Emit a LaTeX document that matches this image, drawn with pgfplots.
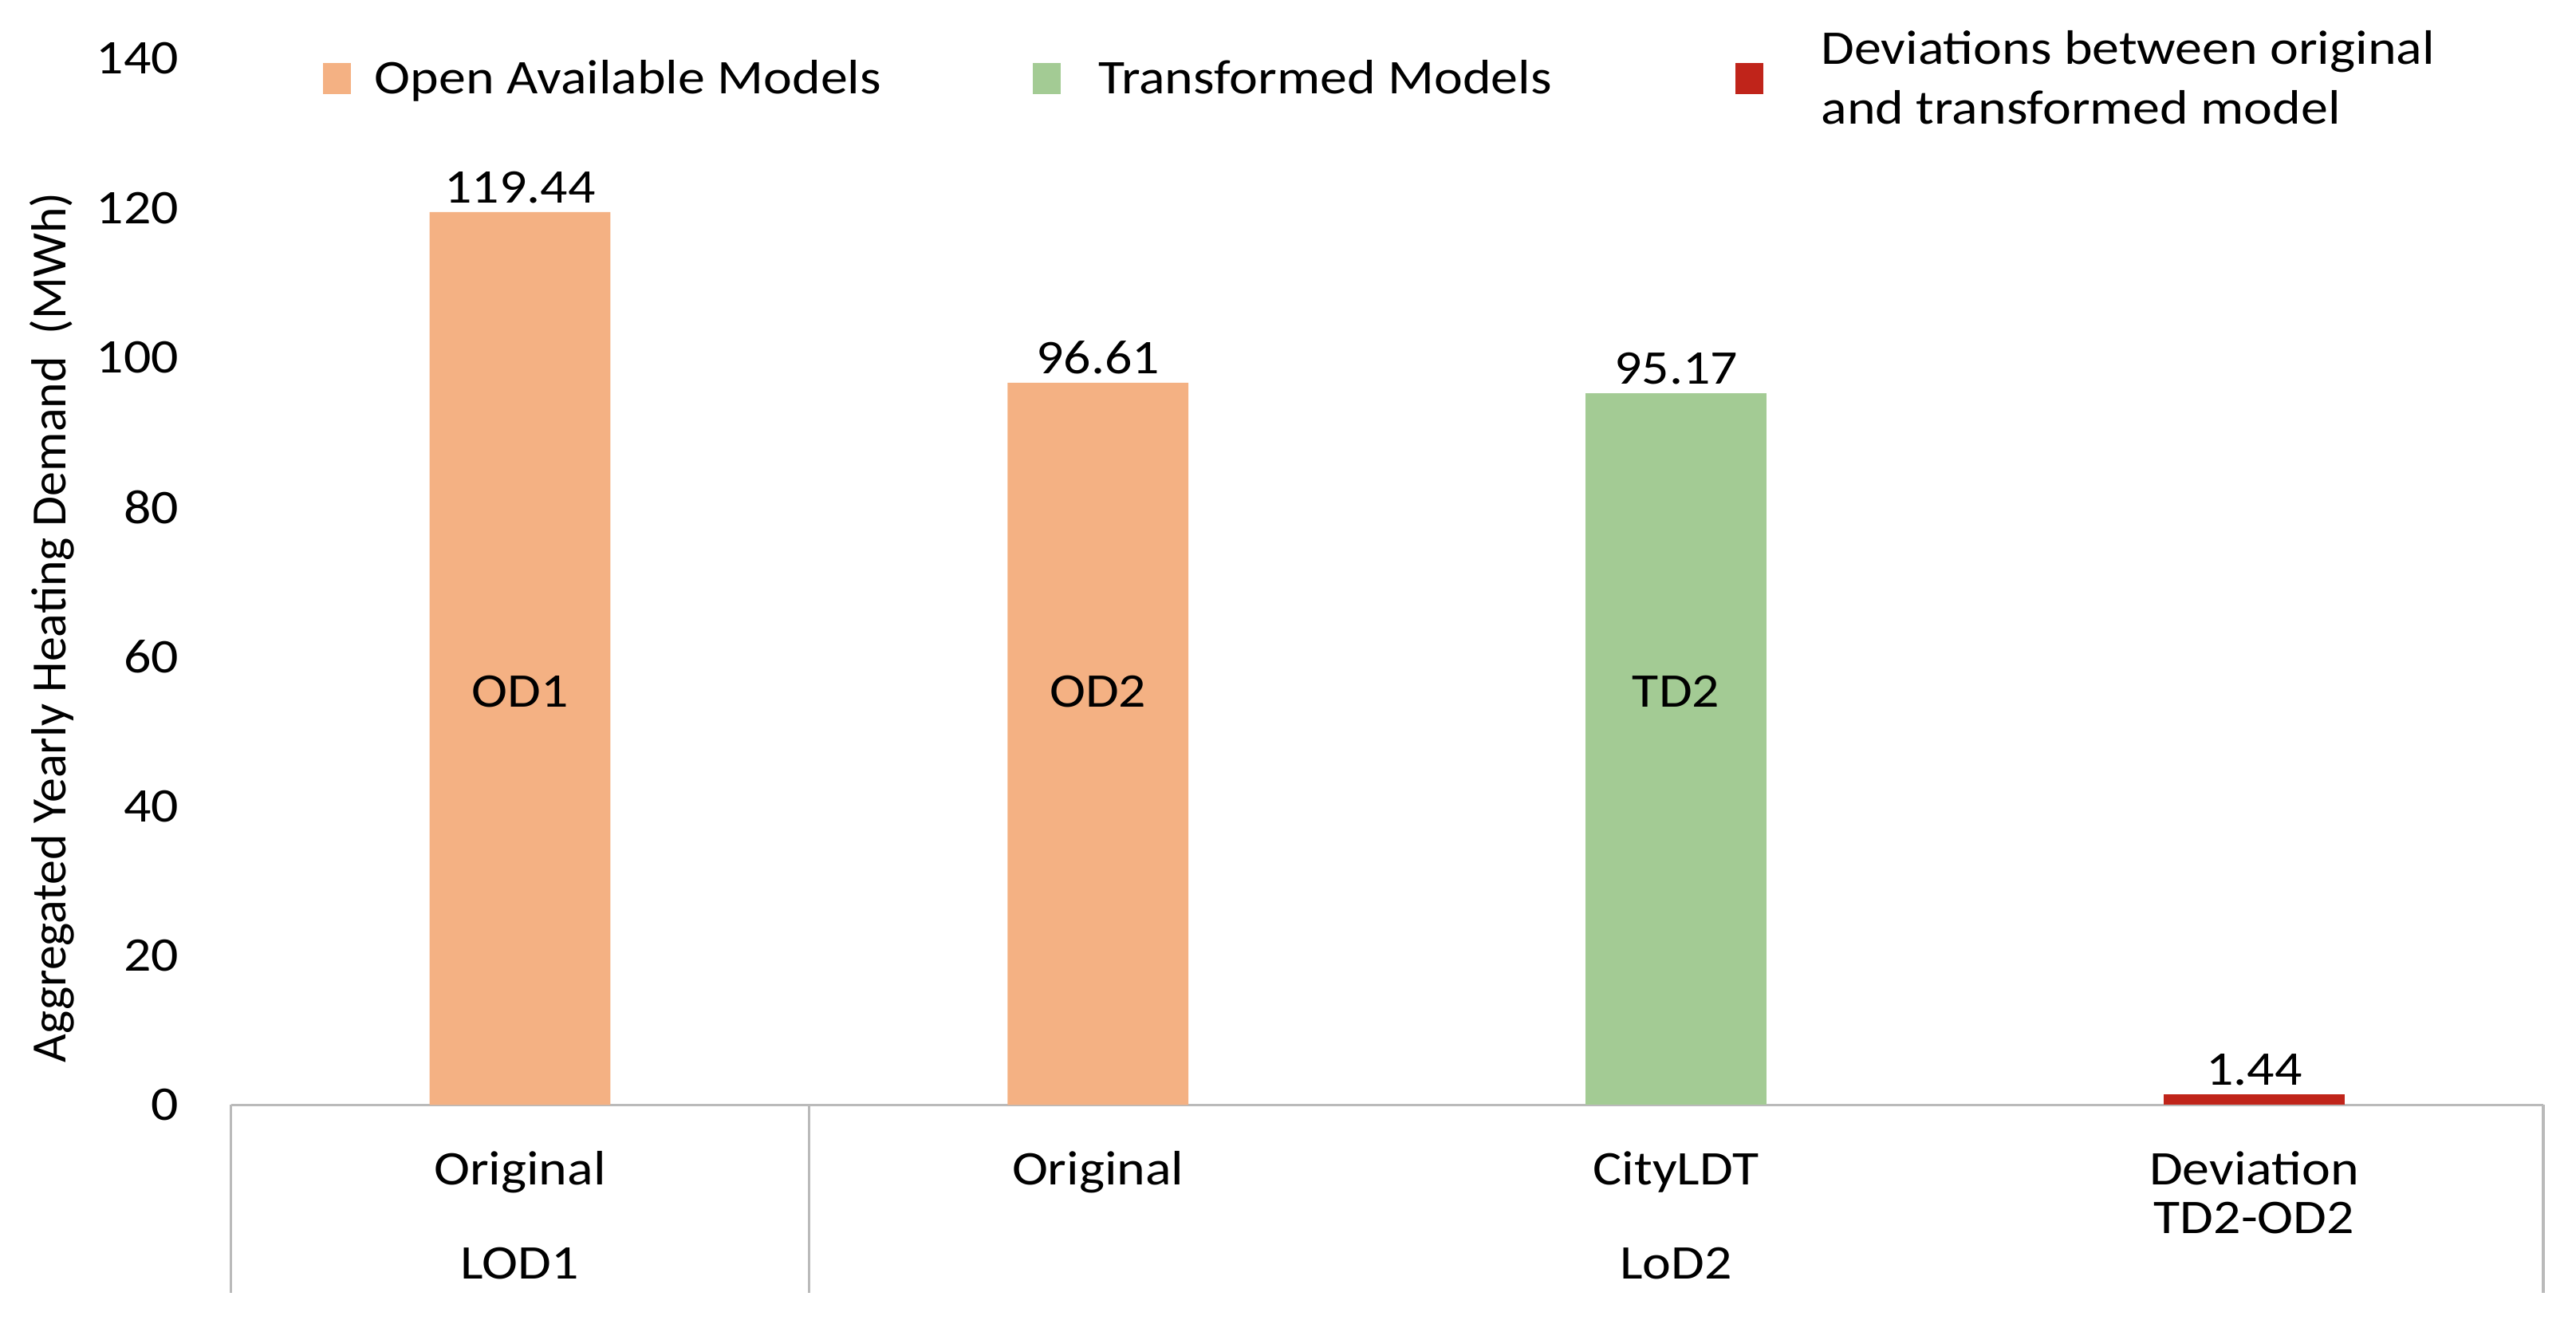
\documentclass[border=0pt]{standalone}
\usepackage{fontspec}
\setmainfont{Carlito}[FakeStretch=1.12]
\newfontfamily\ylfont{Carlito}
\usepackage{pgfplots}
\pgfplotsset{compat=1.18}
\definecolor{cOrange}{HTML}{F4B183}
\definecolor{cGreen}{HTML}{A3CB94}
\definecolor{cRed}{HTML}{C0241A}
\definecolor{cAxis}{HTML}{BABABA}
\pgfplotsset{sqlegend/.style={legend image code/.code={\fill[##1] (0pt,-0.05pt) rectangle (5.95pt,6.6pt);}}}
\begin{document}
\fontsize{10.3}{12.7}\selectfont
\begin{tikzpicture}
\useasboundingbox (-49.2pt,-45.7pt) rectangle (499.6pt,235.4pt);
\begin{axis}[
  at={(0pt,0pt)}, anchor=south west,
  scale only axis, width=492.6pt, height=222.95pt,
  xmin=-0.5, xmax=3.5, ymin=0, ymax=140,
  clip=false,
  axis x line=bottom, axis y line=left, axis line style={-},
  x axis line style={cAxis, line width=0.6pt},
  y axis line style={draw=none},
  major tick length=0pt,
  ytick={0,20,...,140},
  xtick={0,1,2,3},
  xticklabels={Original,Original,CityLDT,{Deviation\\TD2-OD2}},
  xticklabel style={align=center, inner sep=0pt, anchor=north, yshift=-9.7pt, font=\fontsize{10.3}{10.3}\selectfont},
  yticklabel style={xshift=-7.5pt},
  /pgf/number format/assume math mode=true,
  ylabel={\ylfont\fontsize{10.5}{12}\selectfont Aggregated Yearly Heating Demand\ \ (MWh)},
  every axis y label/.style={at={(axis description cs:-0.0775,0.456)}, rotate=90, anchor=center},
  ybar,
  nodes near coords,
  every node near coord/.append style={/pgf/number format/fixed, /pgf/number format/fixed zerofill, /pgf/number format/precision=2, anchor=base, yshift=2.0pt, inner sep=0pt},
  legend style={at={(axis description cs:0,1)}, anchor=west, xshift=19.4pt, yshift=-0.7pt, draw=none, fill=none, inner sep=0pt, column sep=0pt, nodes={inner sep=0pt}, font=\fontsize{10.3}{12.7}\selectfont, cells={anchor=base west}},
  legend columns=3,
]
\addplot[fill=cOrange, draw=none, bar width=38.5pt, bar shift=0pt, sqlegend] coordinates {(0,119.44) (1,96.61)};
\addlegendentry{\makebox[145.25pt][l]{\hspace{5.1pt}\begin{tabular}{@{}l@{}}Open Available Models\end{tabular}}}
\addplot[fill=cGreen, draw=none, bar width=38.5pt, bar shift=0pt, sqlegend] coordinates {(2,95.17)};
\addlegendentry{\makebox[143.85pt][l]{\hspace{8.05pt}\begin{tabular}{@{}l@{}}Transformed Models\end{tabular}}}
\addplot[fill=cRed, draw=none, bar width=38.5pt, bar shift=0pt, sqlegend] coordinates {(3,1.44)};
\addlegendentry{\hspace{12.25pt}\begin{tabular}{@{}l@{}}Deviations between original\\and transformed model\end{tabular}}
\draw[cAxis, line width=0.6pt] (axis cs:-0.5,0) -- ([yshift=-40.1pt]axis cs:-0.5,0);
\draw[cAxis, line width=0.6pt] (axis cs:0.5,0) -- ([yshift=-40.1pt]axis cs:0.5,0);
\draw[cAxis, line width=0.6pt] (axis cs:3.5,0) -- ([yshift=-40.1pt]axis cs:3.5,0);
\node at ([yshift=-33.8pt]axis cs:0,0) {LOD1};
\node at ([yshift=-33.8pt]axis cs:2,0) {LoD2};
\node at (axis cs:0,55.3) {OD1};
\node at (axis cs:1,55.3) {OD2};
\node at (axis cs:2,55.3) {TD2};
\end{axis}
\end{tikzpicture}
\end{document}
